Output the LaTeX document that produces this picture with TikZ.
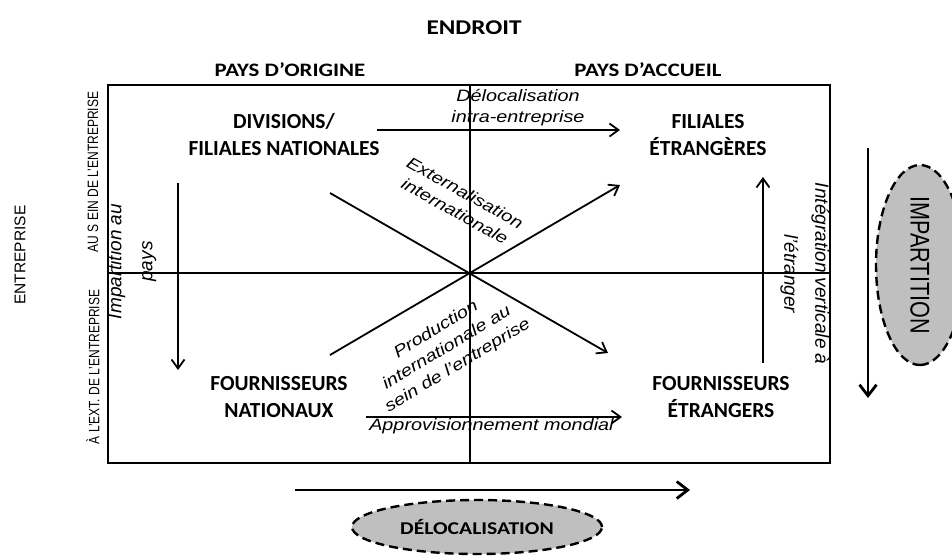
\documentclass[tikz,border=0pt]{standalone}
\usepackage{fontspec}
\setmainfont{Liberation Sans}
\newfontfamily\headfont{Carlito}[FakeStretch=1.2]
\newfontfamily\actorfont{Carlito}
\newfontfamily\flowfont{Liberation Sans}[FakeStretch=1.2]
\newfontfamily\sidefont{Liberation Sans}[FakeStretch=0.8]
\usetikzlibrary{arrows.meta,shapes.geometric}

\tikzset{
  >={Straight Barb[length=9pt,width=13pt]},
  head/.style={font=\headfont\bfseries\fontsize{19}{24}\selectfont, inner sep=0},
  actor/.style={font=\actorfont\bfseries\fontsize{21.5}{27}\selectfont, align=center, inner sep=0},
  flow/.style={font=\flowfont\itshape\fontsize{16.5}{21}\selectfont, align=center, inner sep=1pt},
  upflow/.style={font=\itshape\fontsize{19}{31}\selectfont, align=center, inner sep=0},
  side/.style={font=\sidefont\fontsize{15}{16}\selectfont, rotate=90, inner sep=0},
  arr/.style={->, line width=1.8pt},
  bigarr/.style={-{Straight Barb[length=11pt,width=17pt]}, line width=2.8pt},
  bubble/.style={ellipse, draw, fill=black!25, line width=2.4pt, dash pattern=on 9pt off 5pt, inner sep=0},
}

\begin{document}
\begin{tikzpicture}[x=1pt,y=-1pt]
  \useasboundingbox (0,0) rectangle (952,555);

  % HEADERS
  \node[head, font=\headfont\bfseries\fontsize{21}{26}\selectfont] (endroit) at (474,28) {ENDROIT};
  \node[head] (origine) at (290,70) {PAYS D’ORIGINE};
  \node[head] (accueil) at (648,70) {PAYS D’ACCUEIL};
  \node[side, font=\fontsize{15.5}{16}\selectfont] (entr) at (20,255) {ENTREPRISE};
  \node[side] (ausein) at (93,172) {AU S EIN DE L’ENTREPRISE};
  \node[side] (alext) at (93,367) {À L’EXT. DE L’ENTREPRISE};

  % FRAME + AXES
  \draw[line width=1.5pt] (108,85) rectangle (830,463);
  \draw[line width=1.5pt] (470,85) -- (470,463) (108,273) -- (830,273);

  % ACTORS
  \node[actor] (div) at (284,135) {DIVISIONS/\\FILIALES NATIONALES};
  \node[actor] (fil) at (708,135) {FILIALES\\ÉTRANGÈRES};
  \node[actor] (fnat) at (279,397) {FOURNISSEURS\\NATIONAUX};
  \node[actor] (fetr) at (721,397) {FOURNISSEURS\\ÉTRANGERS};

  % FLOWS
  \draw[arr] ([shift={(93,-5)}]div.center) -- ([shift={(-88,-5)}]fil.center)
    node[flow, above=2pt, pos=0.58] (deloc) {Délocalisation\\intra-entreprise};
  \draw[arr] ([shift={(87,20)}]fnat.center) -- ([shift={(-99,20)}]fetr.center)
    node[flow, below=0pt, pos=0.49] (appro) {Approvisionnement mondial};
  \draw[arr] ([shift={(-106,48)}]div.center) -- ([shift={(-101,-27)}]fnat.center)
    node[xshift=-46, upflow, rotate=90, pos=0.42] (imppays) {Impartition au\\pays};
  \draw[arr] ([shift={(42,-34)}]fetr.center) -- ([shift={(55,42)}]fil.center)
    node[xshift=42, upflow, rotate=-90, pos=0.48] (integ) {Intégration verticale à\\l’étranger};
  \draw[arr] ([shift={(46,58)}]div.center) -- ([shift={(-113,-44)}]fetr.center);
  \draw[arr] ([shift={(51,-42)}]fnat.center) -- ([shift={(-88,50)}]fil.center);
  \node[flow, rotate=-29] (extern) at (460,202) {Externalisation\\internationale};
  \node[flow, rotate=31] (prod) at (447,348) {Production\\internationale au\\sein de l’entreprise};

  % IMPARTITION / DELOCALISATION
  \node[bubble, rotate=-90, minimum width=200, minimum height=88,
    font=\sidefont\fontsize{27}{30}\selectfont] (impart) at (920,265) {IMPARTITION};
  \coordinate (impTop) at (868,148);
  \coordinate (impBot) at (868,398);
  \draw[bigarr] (impTop) -- (impBot);
  \node[bubble, minimum width=250, minimum height=54,
    font=\headfont\bfseries\fontsize{18}{22}\selectfont] (delocal) at (477,527) {DÉLOCALISATION};
  \coordinate (delL) at (295,490);
  \coordinate (delR) at (690,490);
  \draw[bigarr] (delL) -- (delR);
\end{tikzpicture}
\end{document}
